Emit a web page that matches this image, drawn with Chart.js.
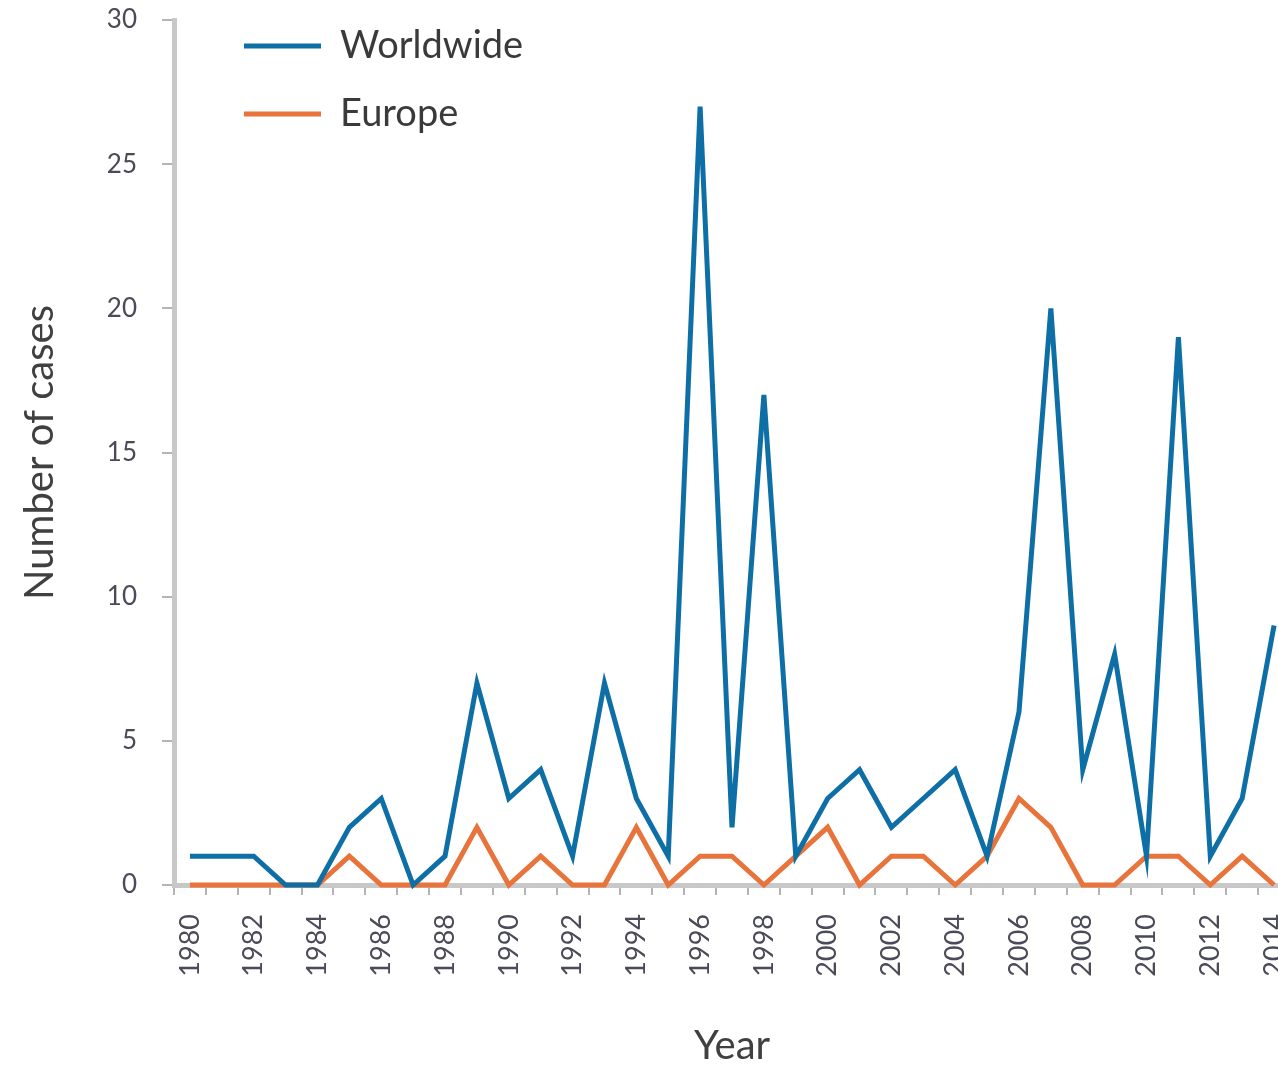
<!DOCTYPE html>
<html>
<head>
<meta charset="utf-8">
<script src="https://cdn.jsdelivr.net/npm/chart.js@4/dist/chart.umd.min.js"></script>
<style>
html,body{margin:0;padding:0;overflow:hidden;background:#ffffff;width:1278px;height:1066px;}
#wrap{position:absolute;left:0;top:0;width:1290px;height:1066px;}
</style>
</head>
<body>
<div id="wrap"><canvas id="c" width="1290" height="1066"></canvas></div>
<script>
const years = ['1980','1981','1982','1983','1984','1985','1986','1987','1988','1989',
               '1990','1991','1992','1993','1994','1995','1996','1997','1998','1999',
               '2000','2001','2002','2003','2004','2005','2006','2007','2008','2009',
               '2010','2011','2012','2013','2014'];
const worldwide = [1,1,1,0,0,2,3,0,1,7,
                   3,4,1,7,3,1,27,2,17,1,
                   3,4,2,3,4,1,6,20,4,8,
                   1,19,1,3,9];
const europe = [0,0,0,0,0,1,0,0,0,2,
                0,1,0,0,2,0,1,1,0,1,
                2,0,1,1,0,1,3,2,0,0,
                1,1,0,1,0];
const seriesNames = ['Worldwide','Europe'];
const yTicks = [0,5,10,15,20,25,30];

const BLUE = '#0d6fa5';
const ORANGE = '#e8733b';
const FONT = 'Lato, "Open Sans", "DejaVu Sans", sans-serif';

const legendPlace = {
  id: 'legendPlace',
  afterLayout(chart) {
    const l = chart.legend;
    if (!l) return;
    l.left = 214;
    l.top = -3;
  }
};

new Chart(document.getElementById('c'), {
  type: 'line',
  data: {
    labels: years,
    datasets: [
      { label: seriesNames[0], data: worldwide, borderColor: BLUE, backgroundColor: BLUE,
        borderWidth: 5, pointRadius: 0, pointHoverRadius: 0, tension: 0, fill: false, clip: false },
      { label: seriesNames[1], data: europe, borderColor: ORANGE, backgroundColor: ORANGE,
        borderWidth: 5, pointRadius: 0, pointHoverRadius: 0, tension: 0, fill: false, clip: false }
    ]
  },
  options: {
    responsive: false,
    animation: false,
    devicePixelRatio: 1,
    layout: { padding: { top: 20, right: 0, bottom: 0, left: 0 } },
    plugins: {
      tooltip: { enabled: false },
      legend: {
        position: 'chartArea',
        align: 'start',
        labels: {
          boxWidth: 77,
          boxHeight: 5,
          padding: 30,
          color: '#3a3a3a',
          font: { family: FONT, size: 38 },
          generateLabels(chart) {
            return chart.data.datasets.map((ds, i) => ({
              text: ds.label, fillStyle: ds.borderColor, strokeStyle: ds.borderColor,
              lineWidth: 0, hidden: false, datasetIndex: i, fontColor: '#3a3a3a'
            }));
          }
        }
      }
    },
    scales: {
      x: {
        type: 'category',
        offset: true,
        grid: { offset: true, drawOnChartArea: false, drawTicks: true, tickLength: 10, color: '#b4b4b4', lineWidth: 2 },
        border: { display: true, color: '#c8c8c8', width: 5 },
        ticks: {
          autoSkip: false, maxRotation: 90, minRotation: 90, padding: 19,
          color: '#4a4a58', font: { family: FONT, size: 27 },
          callback(v, i) { const y = years[i]; return Number(y) % 2 === 0 ? y : ''; }
        },
        title: { display: true, text: 'Year', color: '#404040',
                 font: { family: FONT, size: 40, lineHeight: 1 }, padding: { top: 0, bottom: 0 } },
        afterFit(s) { s.height = 181; s.paddingLeft = 0; s.paddingRight = 0; }
      },
      y: {
        min: yTicks[0],
        max: yTicks[yTicks.length - 1],
        afterBuildTicks(s) { s.ticks = yTicks.map(v => ({ value: v })); },
        grid: { drawOnChartArea: false, drawTicks: true, tickLength: 12, color: '#b4b4b4', lineWidth: 2 },
        border: { display: true, color: '#c8c8c8', width: 5 },
        ticks: { padding: 25, color: '#4a4a58', font: { family: FONT, size: 26 } },
        title: { display: true, text: 'Number of cases', color: '#404040',
                 font: { family: FONT, size: 40, lineHeight: 1 }, padding: { top: 20, bottom: 0 } },
        afterFit(s) { s.width = 174; s.paddingTop = 0; s.paddingBottom = 0; }
      }
    }
  },
  plugins: [legendPlace]
});
</script>
</body>
</html>
